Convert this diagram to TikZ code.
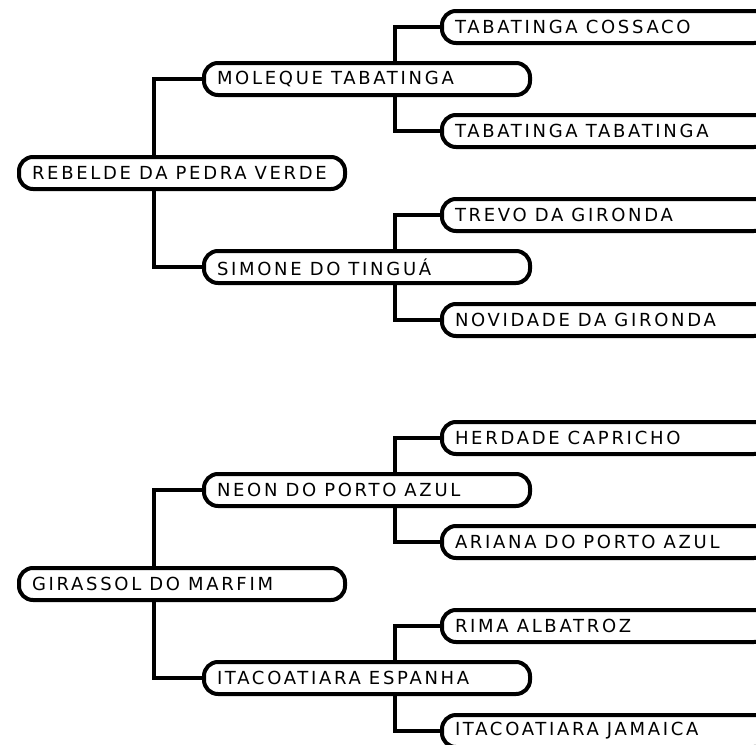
\documentclass[tikz,border=0pt]{standalone}
\usepackage{fontspec}
\setsansfont{DejaVu Sans}[LetterSpace=15]
\usepackage{tikz}
\usetikzlibrary{positioning}
\newcommand\horsefont{\sffamily\fontsize{18}{20}\selectfont}

\begin{document}
\begin{tikzpicture}[x=1pt,y=-1pt,
  horse/.style={draw,line width=4pt,rounded corners=14pt,minimum height=32pt,
    text width=300pt,inner xsep=13pt,align=left,font=\horsefont,
    execute at begin node={\spaceskip=8pt\xspaceskip=8pt\relax}},
  link/.style={line width=4pt}]
\useasboundingbox (0,0) rectangle (756,745);
\clip (0,0) rectangle (756,745);

      \node[horse] (reb) at (182,173) {REBELDE DA PEDRA VERDE};
      \node[horse] (mol) at (367,79) {MOLEQUE TABATINGA};
      \node[horse] (sim) at (367,267) {SIMONE DO TINGUÁ};
      \node[horse] (tc) at (605,27) {TABATINGA COSSACO};
      \node[horse] (tt) at (605,131) {TABATINGA TABATINGA};
      \node[horse] (trevo) at (605,215) {TREVO DA GIRONDA};
      \node[horse] (nov) at (605,320) {NOVIDADE DA GIRONDA};

      \node[horse] (gir) at (182,584) {GIRASSOL DO MARFIM};
      \node[horse] (neon) at (367,490) {NEON DO PORTO AZUL};
      \node[horse] (esp) at (367,678) {ITACOATIARA ESPANHA};
      \node[horse] (herd) at (605,438) {HERDADE CAPRICHO};
      \node[horse] (ari) at (605,542) {ARIANA DO PORTO AZUL};
      \node[horse] (rima) at (605,626) {RIMA ALBATROZ};
      \node[horse] (jam) at (605,731) {ITACOATIARA JAMAICA};

\foreach \p/\a/\b in {reb/mol/sim,gir/neon/esp}{
      \draw[link] ([xshift=-28pt]\p.north) |- (\a.west);
      \draw[link] ([xshift=-28pt]\p.south) |- (\b.west);
}
\foreach \p/\a/\b in {mol/tc/tt,sim/trevo/nov,neon/herd/ari,esp/rima/jam}{
      \draw[link] ([xshift=28pt]\p.north) |- (\a.west);
      \draw[link] ([xshift=28pt]\p.south) |- (\b.west);
}
\end{tikzpicture}
\end{document}
